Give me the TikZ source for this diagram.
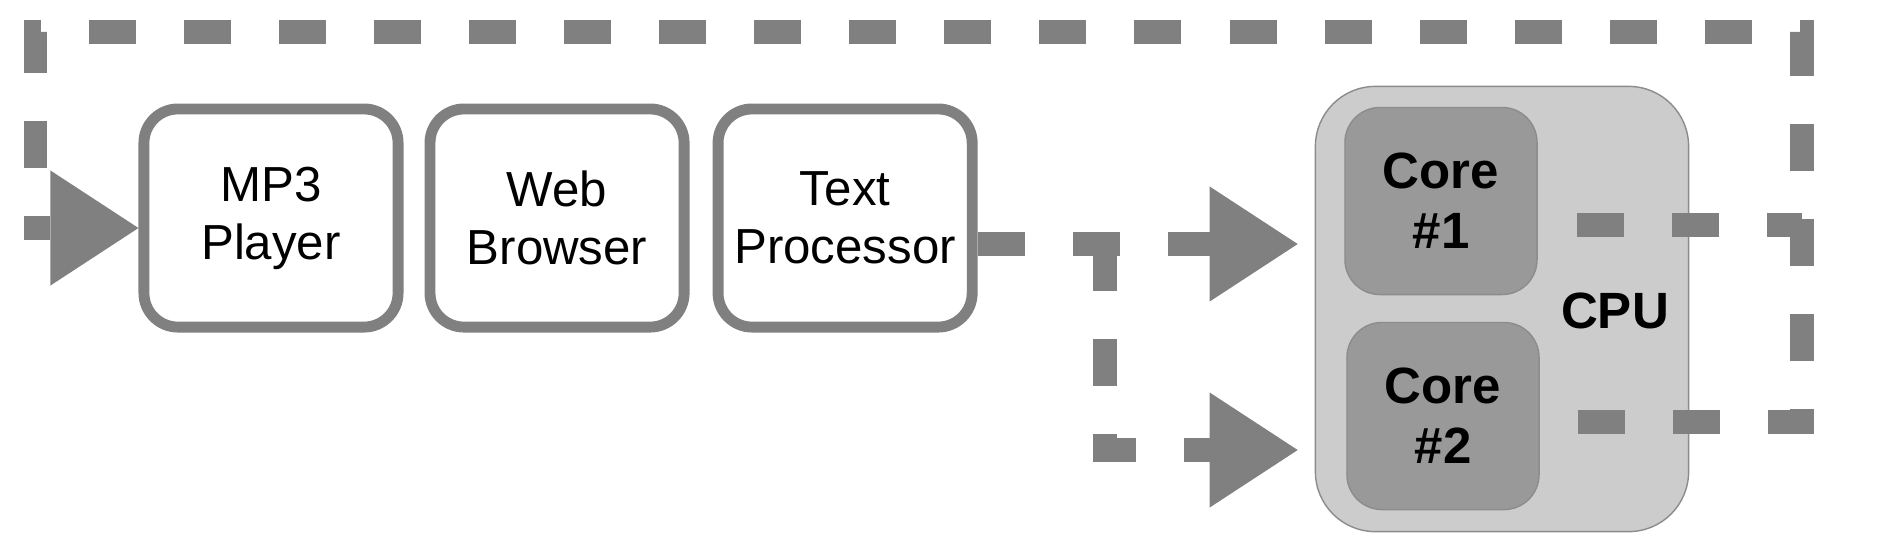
\documentclass[tikz,border=0pt]{standalone}
\usepackage{fontspec}
\setmainfont{Liberation Sans}
\usetikzlibrary{positioning,arrows.meta,calc}
\definecolor{flowgray}{RGB}{128,128,128}
\definecolor{cpufill}{RGB}{204,204,204}
\definecolor{corefill}{RGB}{153,153,153}
\definecolor{rimgray}{RGB}{140,140,140}

\begin{document}
\begin{tikzpicture}[x=0.01cm,y=-0.01cm,
        prog/.style={draw=flowgray,line width=3.1pt,rounded corners=0.34cm,fill=white,
            minimum width=2.54cm,minimum height=2.18cm,align=center,inner sep=0pt,
            font=\fontsize{14}{16.5}\selectfont},
        cpubox/.style={draw=rimgray,thin,fill=cpufill,rounded corners=0.6cm,
            minimum width=3.73cm,minimum height=4.45cm},
        corebox/.style={draw=rimgray,thin,fill=corefill,rounded corners=0.35cm,
            minimum width=1.92cm,minimum height=1.87cm,align=center,inner sep=0pt,
            font=\bfseries\fontsize{14.5}{17}\selectfont},
        flow/.style={draw=flowgray,line width=6.8pt,dash pattern=on 0.47cm off 0.48cm},
        tip/.style={-{Triangle[length=0.88cm,width=1.15cm,line width=0pt]}}]
    \useasboundingbox (0,0) rectangle (1902,556);

    % programs
    \node[prog] (mp3) at (271,218) {MP3\\Player};
    \node[prog,right=0.21cm of mp3] (web) {Web\\Browser};
    \node[prog,right=0.23cm of web] (text) {Text\\Processor};

    % cpu with two cores
    \node[cpubox] (cpu) at (1502,309) {};
    \node[corebox] (core1) at (1441,201) {Core\\\#1};
    \node[corebox] (core2) at (1443,416) {Core\\\#2};
    \node[font=\bfseries\fontsize{14.5}{16}\selectfont] (cpulabel) at (1615,311) {CPU};

    % points on the flow
    \coordinate (tpout) at ($(text.east)+(0,26)$);
    \coordinate (split) at ($(tpout)+(127,0)$);
    \coordinate (in1) at ($(cpu.west |- tpout)+(-17,0)$);
    \coordinate (in2) at ($(in1)+(0,206)$);
    \coordinate (out1) at ($(core1.east)+(39,24)$);
    \coordinate (out2) at ($(core2.east)+(38,6)$);
    \coordinate (ret) at ($(cpu.north east)+(113,-54)$);
    \coordinate (back) at ($(ret -| mp3.west)+(-103,0)$);
    \coordinate (in0) at ($(mp3.west)+(0,10)$);

    % flow
    \draw[flow,tip] (tpout) -- (in1);
    \draw[flow,tip] (split) |- (in2);
    \draw[flow] (out1) -- (out1 -| ret);
    \draw[flow,tip] (out2) -| (ret) -- (back) |- (in0);
\end{tikzpicture}
\end{document}
